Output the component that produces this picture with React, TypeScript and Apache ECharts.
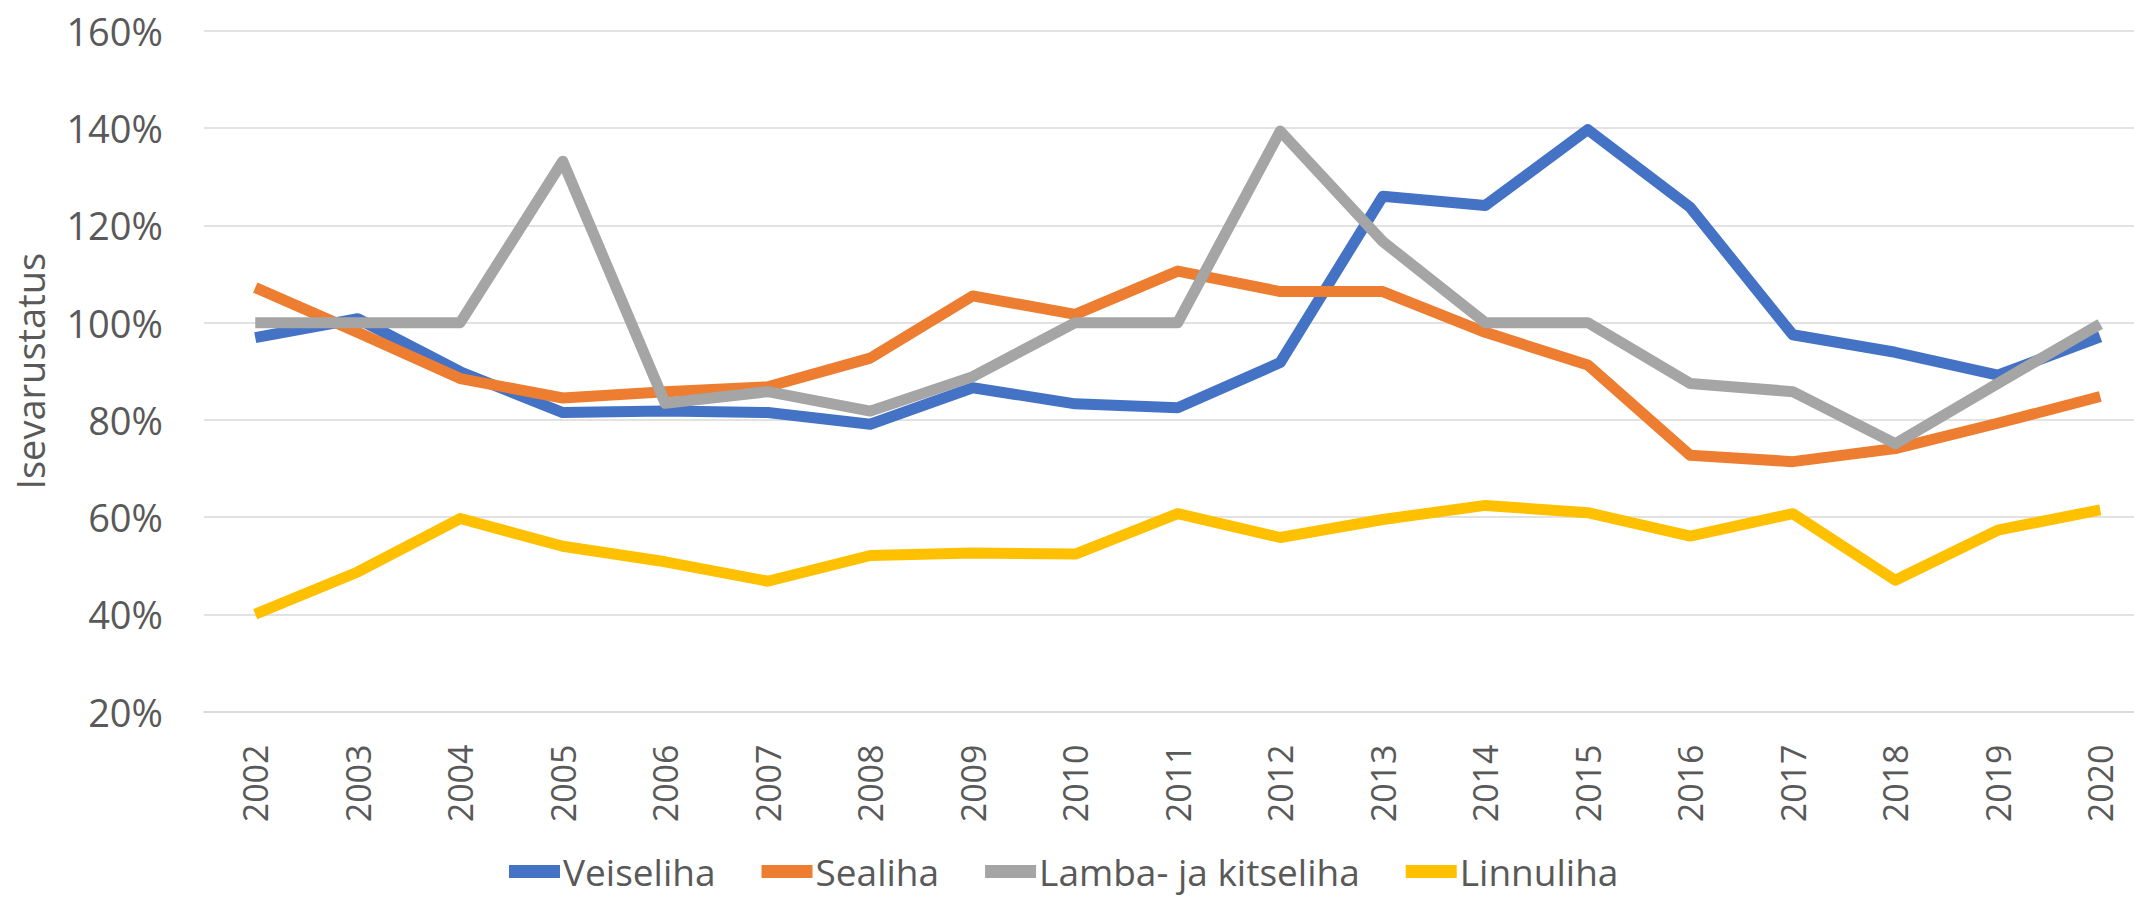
import React, { useEffect, useRef } from "react";
import * as echarts from "echarts";

const years = ["2002","2003","2004","2005","2006","2007","2008","2009","2010","2011","2012","2013","2014","2015","2016","2017","2018","2019","2020"];
const veiseliha = [96.9, 100.8, 89.9, 81.5, 81.8, 81.5, 79.1, 86.6, 83.3, 82.5, 91.8, 126.0, 124.1, 139.7, 123.7, 97.5, 93.9, 89.2, 97.1];
const sealiha = [107.2, 98.0, 88.5, 84.5, 85.8, 86.8, 92.7, 105.5, 101.7, 110.6, 106.4, 106.4, 98.0, 91.3, 72.7, 71.4, 74.1, 79.3, 84.8];
const lambaJaKitseliha = [100, 100, 100, 133.2, 83.4, 85.8, 81.8, 88.9, 100, 100, 139.4, 116.7, 100, 100, 87.5, 85.8, 75.1, 87.5, 99.7];
const linnuliha = [40.0, 48.7, 59.7, 54.0, 50.8, 46.8, 52.1, 52.6, 52.4, 60.7, 55.8, 59.5, 62.4, 60.9, 56.1, 60.7, 47.0, 57.3, 61.5];

const seriesNames = ["Veiseliha", "Sealiha", "Lamba- ja kitseliha", "Linnuliha"];
const seriesColors = ["#4472C4", "#ED7D31", "#A5A5A5", "#FFC000"];
const seriesData = [veiseliha, sealiha, lambaJaKitseliha, linnuliha];

const FONT = "'Open Sans', sans-serif";
const TEXT_COLOR = "#595959";

export default function App() {
  const ref = useRef<HTMLDivElement>(null);
  useEffect(() => {
    if (!ref.current) return;
    const chart = echarts.init(ref.current, null, { renderer: "svg" });
    chart.setOption({
      animation: false,
      backgroundColor: "#ffffff",
      textStyle: { fontFamily: FONT },
      grid: {
        left: 204,
        top: 31,
        width: 1947.5,
        height: 680.5,
        containLabel: false,
        outerBoundsMode: "none",
      },
      legend: {
        left: 504,
        top: 848,
        icon: "rect",
        itemWidth: 51,
        itemHeight: 13,
        itemGap: 46,
        textStyle: { fontSize: 37, color: TEXT_COLOR, fontFamily: FONT, padding: [0, 0, 0, -2] },
        data: seriesNames,
      },
      xAxis: {
        type: "category",
        data: years,
        boundaryGap: true,
        axisLine: { show: true, lineStyle: { color: "#D9D9D9", width: 1.5 } },
        axisTick: { show: false },
        axisLabel: { rotate: 90, margin: 33, fontSize: 34, color: TEXT_COLOR, fontFamily: FONT, interval: 0 },
      },
      yAxis: {
        type: "value",
        min: 20,
        max: 160,
        interval: 20,
        name: "Isevarustatus",
        nameLocation: "middle",
        nameGap: 155,
        nameTextStyle: { fontSize: 38, color: TEXT_COLOR, fontFamily: FONT },
        axisLine: { show: false },
        axisTick: { show: false },
        axisLabel: { formatter: "{value}%", fontSize: 38, color: TEXT_COLOR, fontFamily: FONT, margin: 41 },
        splitLine: { show: true, lineStyle: { color: "#D9D9D9", width: 1.5 } },
      },
      series: seriesNames.map((name, i) => ({
        name,
        type: "line",
        data: seriesData[i],
        showSymbol: false,
        symbol: "none",
        color: seriesColors[i],
        lineStyle: { width: 11, color: seriesColors[i], cap: "butt", join: "round" },
      })),
    });
    return () => chart.dispose();
  }, []);
  return <div ref={ref} style={{ position: "absolute", left: 0, top: 0, width: 2134, height: 898 }} />;
}
